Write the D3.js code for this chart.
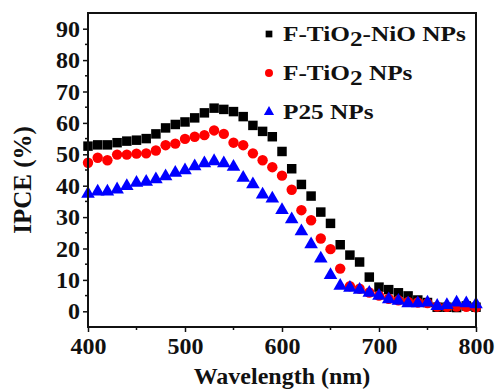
<!DOCTYPE html>
<html>
<head>
<meta charset="utf-8">
<script src="https://cdn.jsdelivr.net/npm/d3@7"></script>
<style>
	body{margin:0;background:#fff;}
	text{font-family:"Liberation Serif","Times New Roman",serif;font-weight:bold;fill:#111;}
</style>
</head>
<body>
<div id="chart"></div>
<script>
const wavelength = [400,410,420,430,440,450,460,470,480,490,500,510,520,530,540,550,560,570,580,590,600,
	610,620,630,640,650,660,670,680,690,700,710,720,730,740,750,760,770,780,790,800];

const tio2NiO = [52.6,53,53,53.7,54.2,54.5,55,56.5,58.4,59.5,60.3,61.6,63.2,64.7,64.3,63.6,62,59.2,57.3,55.6,50.9,
	45.4,40.4,36.7,31.6,28,21.2,17.9,15.7,10.9,7.7,6.9,5.9,4.9,3.6,2.8,1.3,1.3,1.2,1.7,1.3];
const tio2 = [47.3,48.9,48.1,49.9,49.9,50.2,50.3,51.2,52.9,53.4,54.9,55.6,56.1,57.6,56.5,53.7,52.9,50.3,48.1,45.9,43.2,
	38.7,32.2,29,23.2,19.8,13.6,8,7.2,6,5,4,3.5,3,2.8,2.6,1.5,1.4,1.5,1.4,1.3];
const p25 = [37.4,38.1,38.1,38.8,39.9,40.9,41.2,42,43,44.1,44.9,46.2,47.1,47.8,47.1,46,42.5,40.4,37.2,35.9,32.2,
	29.3,25.5,21.3,16.8,11.5,8.1,7.5,6.8,5.9,4.9,3.8,3.3,2.5,2.5,2.8,1.7,2,2.8,2.5,2.2];

const xTicks = [400,500,600,700,800];
const xMinor = [450,550,650,750];
const yTicks = [0,10,20,30,40,50,60,70,80,90];
const yMinor = [5,15,25,35,45,55,65,75,85];

const series = [
	{name:'F-TiO2-NiO NPs', values:tio2NiO, color:'#000000', shape:d3.symbolSquare, size:90},
	{name:'F-TiO2 NPs', values:tio2, color:'#ff0000', shape:d3.symbolCircle, size:85},
	{name:'P25 NPs', values:p25, color:'#0000ff', shape:d3.symbolTriangle, size:80}
];

const W = 496, H = 391;
const margin = {l:88, r:20, t:13, b:64};
const w = W - margin.l - margin.r;
const h = H - margin.t - margin.b;

const svg = d3.select('#chart').append('svg')
	.attr('width', W)
	.attr('height', H);

const plot = svg.append('g')
	.attr('transform', `translate(${margin.l},${margin.t})`);

const x = d3.scaleLinear().domain([400,800]).range([0,w]);
const y = d3.scaleLinear().domain([-5,95]).range([h,0]);

// markers
series.forEach(function(s){
	plot.append('g')
		.selectAll('path')
		.data(wavelength.map((wl,i) => [wl, s.values[i]]))
		.enter()
		.append('path')
		.attr('transform', d => `translate(${x(d[0])},${y(d[1])})`)
		.attr('d', d3.symbol().type(s.shape).size(s.size))
		.style('fill', s.color);
});

// axes
const xAxis = plot.append('g')
	.attr('transform', `translate(0,${h})`)
	.call(d3.axisBottom(x).tickValues(xTicks).tickSize(5).tickPadding(5).tickFormat(d3.format('d')));
xAxis.append('g').selectAll('line')
	.data(xMinor).enter().append('line')
	.attr('x1', d => x(d)).attr('x2', d => x(d))
	.attr('y1', 0).attr('y2', 3)
	.style('stroke','#111').style('stroke-width',1.5);

const yAxis = plot.append('g')
	.call(d3.axisLeft(y).tickValues(yTicks).tickSize(5).tickPadding(3));
yAxis.append('g').selectAll('line')
	.data(yMinor).enter().append('line')
	.attr('y1', d => y(d)).attr('y2', d => y(d))
	.attr('x1', 0).attr('x2', -3)
	.style('stroke','#111').style('stroke-width',1.5);

[xAxis, yAxis].forEach(function(a){
	a.select('.domain').remove();
	a.selectAll('.tick line').style('stroke','#111').style('stroke-width',1.5);
	a.selectAll('.tick text')
		.style('font-size','24px')
		.style('font-family','"Liberation Serif","Times New Roman",serif')
		.style('font-weight','bold')
		.style('fill','#111');
});

plot.append('rect')
	.attr('width', w).attr('height', h)
	.style('fill','none').style('stroke','#111').style('stroke-width',2);

// axis titles
svg.append('text')
	.attr('x', margin.l + w/2)
	.attr('y', 384)
	.attr('text-anchor','middle')
	.style('font-size','24px')
	.text('Wavelength (nm)');

svg.append('text')
	.attr('transform', `translate(31,${margin.t + h/2 + 10}) rotate(-90)`)
	.attr('text-anchor','middle')
	.style('font-size','25px')
	.text('IPCE (%)');

// legend
const legend = svg.append('g').attr('transform','translate(269,34)');
const legendItems = [
	[['F-TiO',0],['2',1],['-NiO NPs',0]],
	[['F-TiO',0],['2',1],[' NPs',0]],
	[['P25 NPs',0]]
];
legendItems.forEach(function(parts,i){
	const s = series[i];
	const g = legend.append('g').attr('transform', `translate(0,${i*39})`);
	g.append('path')
		.attr('d', d3.symbol().type(s.shape).size(s.shape === d3.symbolCircle ? 50 : 45))
		.style('fill', s.color);
	const t = g.append('g')
		.attr('transform','translate(14,7) scale(1.15,1)')
		.append('text')
		.style('font-size','22px');
	parts.forEach(function(p,j){
		t.append('tspan')
			.attr('dy', p[1] ? 5 : (j > 0 ? -5 : 0))
			.text(p[0]);
	});
});
</script>
</body>
</html>
